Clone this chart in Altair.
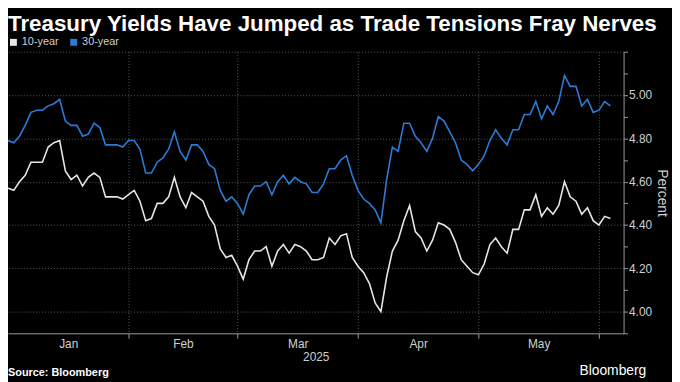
import altair as alt
import pandas as pd

# ---------------- data ----------------
ten_year = [
    4.57, 4.56, 4.60, 4.63, 4.69, 4.69, 4.69, 4.76, 4.78, 4.79,
    4.65, 4.61, 4.63, 4.58, 4.62, 4.64, 4.62, 4.53, 4.53, 4.53,
    4.52, 4.54, 4.56, 4.51, 4.42, 4.43, 4.50, 4.50, 4.53, 4.62,
    4.53, 4.48, 4.55, 4.53, 4.51, 4.44, 4.40, 4.29, 4.25, 4.26,
    4.21, 4.15, 4.24, 4.28, 4.28, 4.30, 4.21, 4.28, 4.31, 4.27,
    4.31, 4.30, 4.28, 4.24, 4.24, 4.25, 4.34, 4.31, 4.35, 4.36,
    4.25, 4.21, 4.18, 4.13, 4.04, 4.00, 4.16, 4.28, 4.33, 4.42,
    4.49, 4.37, 4.34, 4.28, 4.33, 4.41, 4.40, 4.38, 4.32, 4.24,
    4.21, 4.18, 4.17, 4.22, 4.31, 4.34, 4.30, 4.27, 4.38, 4.38,
    4.47, 4.47, 4.54, 4.44, 4.48, 4.45, 4.49, 4.60, 4.53, 4.51,
    4.45, 4.48, 4.42, 4.40, 4.44, 4.43,
]
thirty_year = [
    4.79, 4.78, 4.81, 4.86, 4.92, 4.93, 4.93, 4.95, 4.96, 4.98,
    4.88, 4.86, 4.86, 4.81, 4.82, 4.87, 4.85, 4.77, 4.77, 4.77,
    4.76, 4.79, 4.79, 4.75, 4.64, 4.64, 4.69, 4.71, 4.75, 4.83,
    4.74, 4.70, 4.77, 4.77, 4.74, 4.68, 4.66, 4.56, 4.51, 4.53,
    4.50, 4.45, 4.54, 4.58, 4.58, 4.60, 4.54, 4.60, 4.63, 4.59,
    4.62, 4.60, 4.59, 4.55, 4.55, 4.59, 4.66, 4.66, 4.70, 4.72,
    4.63, 4.56, 4.52, 4.50, 4.47, 4.41, 4.61, 4.76, 4.74, 4.87,
    4.87, 4.81, 4.78, 4.74, 4.80, 4.90, 4.88, 4.83, 4.78, 4.70,
    4.68, 4.65, 4.68, 4.72, 4.79, 4.84, 4.80, 4.77, 4.84, 4.84,
    4.91, 4.91, 4.97, 4.89, 4.95, 4.91, 4.97, 5.09, 5.04, 5.04,
    4.95, 4.98, 4.92, 4.93, 4.97, 4.95,
]
series_names = ["10-year", "30-year"]
series_colors = ["#e6e6e6", "#2c7bd6"]

month_labels = ["Jan", "Feb", "Mar", "Apr", "May"]
month_label_pos = [10.5, 30.5, 50.5, 71.5, 92.5]      # trading-day index
month_bounds = [21, 40, 61, 82, 103]                  # trading-day index
x_title = "2025"

y_ticks = [3.9, 4.0, 4.1, 4.2, 4.3, 4.4, 4.5, 4.6, 4.7, 4.8, 4.9, 5.0, 5.1, 5.2]
y_domain = [3.9, 5.2]
x_domain = [0, 107.3]

title_text = "Treasury Yields Have Jumped as Trade Tensions Fray Nerves"
source_text = "Source: Bloomberg"
brand_text = "Bloomberg"

FONT = "Liberation Sans"
BG = "#000000"
LABEL = "#cfcfcf"
AXISC = "#9a9a9a"
GRID = "#5a5a5a"

# ---------------- tables ----------------
rows = []
for name, vals in zip(series_names, [ten_year, thirty_year]):
    for i, v in enumerate(vals):
        rows.append({"idx": i, "yield": v, "series": name})
df = pd.DataFrame(rows)

bound_test = "indexof([" + ",".join(str(b) for b in month_bounds) + "], datum.value) >= 0"
label_expr = " : ".join(
    f"datum.value == {p} ? '{m}'" for p, m in zip(month_label_pos, month_labels)
) + " : ''"

x_axis = alt.Axis(
    values=month_bounds + month_label_pos,
    labelExpr=label_expr,
    title=x_title,
    grid=True,
    gridOpacity={"condition": {"test": bound_test, "value": 1}, "value": 0},
    tickOpacity={"condition": {"test": bound_test, "value": 1}, "value": 0},
    gridColor=GRID,
    gridDash=[1, 2],
    gridWidth=1,
    domainColor=AXISC,
    tickColor=AXISC,
    tickSize=5,
    labelColor=LABEL,
    labelFont=FONT,
    labelFontSize=12,
    labelPadding=0,
    labelFlush=False,
    labelOverlap=False,
    titleColor=LABEL,
    titleFont=FONT,
    titleFontSize=12,
    titleFontWeight="normal",
    titlePadding=3,
)

y_axis = alt.Axis(
    orient="right",
    values=y_ticks,
    format=".2f",
    labelExpr="(round(datum.value*10) % 2 == 0 && datum.value < 5.1) ? datum.label : ''",
    grid=True,
    gridOpacity={"condition": {"test": "round(datum.value*10) % 2 == 0 && datum.value > 3.95", "value": 1}, "value": 0},
    gridColor=GRID,
    gridDash=[1, 2],
    gridWidth=1,
    domainColor=AXISC,
    tickColor=AXISC,
    tickSize=4,
    labelColor=LABEL,
    labelFont=FONT,
    labelFontSize=12,
    labelPadding=1,
    title="Percent",
    titleAngle=90,
    titleColor=LABEL,
    titleFont=FONT,
    titleFontSize=14,
    titleFontWeight="normal",
    titlePadding=3,
)

lines = alt.Chart(df).mark_line(strokeWidth=1.6).encode(
    x=alt.X("idx:Q", scale=alt.Scale(domain=x_domain, nice=False, zero=False), axis=x_axis),
    y=alt.Y("yield:Q", scale=alt.Scale(domain=y_domain, nice=False, zero=False), axis=y_axis),
    color=alt.Color(
        "series:N",
        scale=alt.Scale(domain=series_names, range=series_colors),
        legend=alt.Legend(
            orient="none",
            legendX=0,
            legendY=-15,
            direction="horizontal",
            title=None,
            symbolType="square",
            symbolSize=9,
            symbolStrokeWidth=4,
            labelColor=LABEL,
            labelFont=FONT,
            labelFontSize=11,
            labelOffset=3,
            columnPadding=5,
            padding=0,
        ),
    ),
    detail="series:N",
)

title_layer = alt.Chart(pd.DataFrame({"t": [title_text]})).mark_text(
    align="left", baseline="alphabetic", font=FONT, fontSize=22.6, fontWeight="bold", color="#ffffff"
).encode(text="t:N", x=alt.value(0), y=alt.value(-21))

source_layer = alt.Chart(pd.DataFrame({"t": [source_text]})).mark_text(
    align="left", baseline="alphabetic", font=FONT, fontSize=11, fontWeight="bold", color="#ffffff"
).encode(text="t:N", x=alt.value(0), y=alt.value(328))

brand_layer = alt.Chart(pd.DataFrame({"t": [brand_text]})).mark_text(
    align="right", baseline="alphabetic", font=FONT, fontSize=14, color="#ffffff"
).encode(text="t:N", x=alt.value(646), y=alt.value(327))

chart = alt.layer(lines, title_layer, source_layer, brand_layer).properties(
    width=623,
    height=285,
    background=BG,
    autosize=alt.AutoSizeParams(type="none"),
    padding={"left": 0, "top": 42, "right": 49, "bottom": 47},
).configure_view(strokeWidth=0)

chart.save("out.html", embed_options={"renderer": "svg", "actions": False})
